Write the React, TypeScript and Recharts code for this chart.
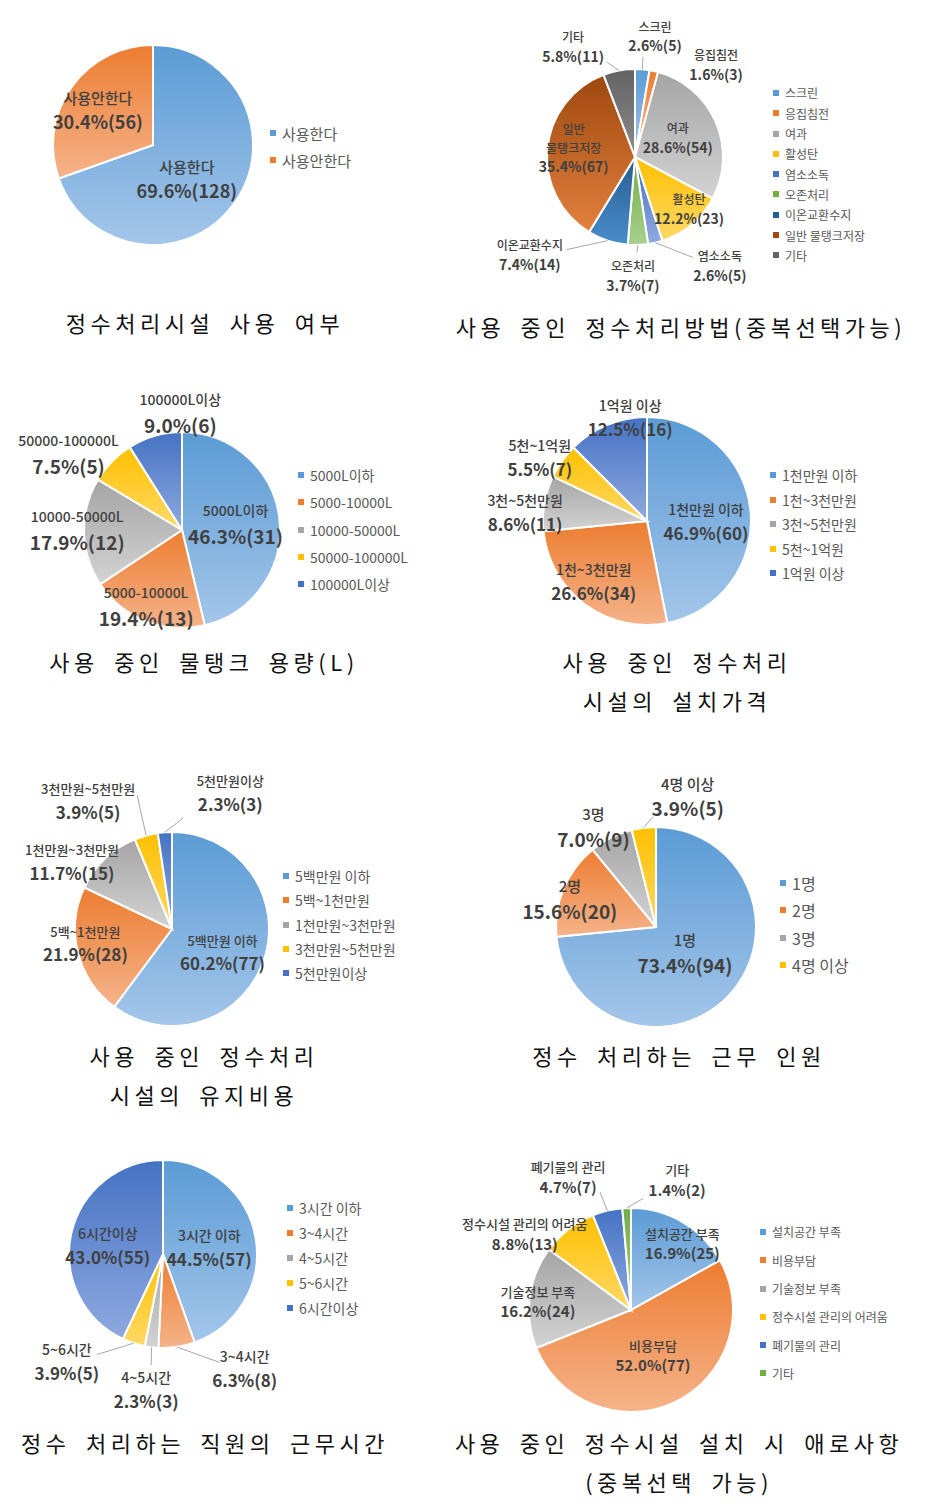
import { PieChart, Pie, Cell, Legend } from "recharts";

const FONT = '"Noto Sans CJK KR", "Noto Sans", sans-serif';

// counts (percentages are derived from them)
const useNames = ["사용한다", "사용안한다"];
const useCounts = [128, 56];

const methodNames = ["스크린", "응집침전", "여과", "활성탄", "염소소독", "오존처리", "이온교환수지", "일반 물탱크저장", "기타"];
const methodCounts = [5, 3, 54, 23, 5, 7, 14, 67, 11];

const tankNames = ["5000L이하", "5000-10000L", "10000-50000L", "50000-100000L", "100000L이상"];
const tankCounts = [31, 13, 12, 5, 6];

const installNames = ["1천만원 이하", "1천~3천만원", "3천~5천만원", "5천~1억원", "1억원 이상"];
const installCounts = [60, 34, 11, 7, 16];

const upkeepNames = ["5백만원 이하", "5백~1천만원", "1천만원~3천만원", "3천만원~5천만원", "5천만원이상"];
const upkeepCounts = [77, 28, 15, 5, 3];

const staffNames = ["1명", "2명", "3명", "4명 이상"];
const staffCounts = [94, 20, 9, 5];

const hourNames = ["3시간 이하", "3~4시간", "4~5시간", "5~6시간", "6시간이상"];
const hourCounts = [57, 8, 3, 5, 55];

const issueNames = ["설치공간 부족", "비용부담", "기술정보 부족", "정수시설 관리의 어려움", "폐기물의 관리", "기타"];
const issueCounts = [25, 77, 24, 13, 7, 2];

// excel-ish gradient pairs [top, bottom]
const BLUE = ["#5B9BD5", "#A4C6EA"];
const ORANGE = ["#ED7D31", "#F5B38A"];
const GRAY = ["#A5A5A5", "#D3D3D3"];
const YELLOW = ["#FFC000", "#FFD966"];
const NAVY = ["#4472C4", "#8FA9DF"];
const GREEN = ["#70AD47", "#A9D18E"];
const DBLUE = ["#255E91", "#4A8CCB"];
const DORANGE = ["#9E480E", "#E3813F"];
const DGRAY = ["#636363", "#8C8C8C"];

const PALETTE5 = [BLUE, ORANGE, GRAY, YELLOW, NAVY, GREEN];

// label placement: [radius ratio, dx, dy, leader end dx, leader end dy]
type Place = number[];

interface ChartDef {
  id: string;
  names: string[];
  counts: number[];
  colors: string[][];
  panel: { x: number; y: number; w: number; h: number };
  cx: number;
  cy: number;
  r: number;
  nameSize: number;
  valueSize: number;
  gap: number;
  place: Place[];
  breakAt?: number[];
  legend: { x: number; y: number; step: number; size: number };
  title: string[];
  titleX: number;
  titleY: number;
}

const charts: ChartDef[] = [
  {
    id: "use", names: useNames, counts: useCounts, colors: [BLUE, ORANGE],
    panel: { x: 0, y: 0, w: 440, h: 300 }, cx: 153, cy: 145, r: 100,
    nameSize: 15, valueSize: 18, gap: 24,
    place: [[0.5, -7, 6], [0.65, -2, 3]],
    legend: { x: 270, y: 133, step: 27, size: 15 },
    title: ["정수처리시설 사용 여부"], titleX: 205, titleY: 322,
  },
  {
    id: "method", names: methodNames, counts: methodCounts,
    colors: [BLUE, ORANGE, GRAY, YELLOW, NAVY, GREEN, DBLUE, DORANGE, DGRAY],
    panel: { x: 440, y: 0, w: 507, h: 300 }, cx: 635, cy: 157, r: 88,
    nameSize: 12, valueSize: 14, gap: 19,
    place: [
      [1.37, 10, 0, -12, 20], [1.38, 55, 27], [0.53, 0, 0], [0.85, 6, -5],
      [1.57, 53, -25, -27, -9], [1.36, -6, 0, 4, -24], [1.25, -71, -6, 37, -6],
      [0.7, 0, -3], [1.43, -39, 14, 34, 15],
    ],
    breakAt: [7],
    legend: { x: 773, y: 93, step: 20.3, size: 12 },
    title: ["사용 중인 정수처리방법(중복선택가능)"], titleX: 681, titleY: 326,
  },
  {
    id: "tank", names: tankNames, counts: tankCounts, colors: PALETTE5,
    panel: { x: 0, y: 380, w: 440, h: 300 }, cx: 182, cy: 530, r: 98,
    nameSize: 14, valueSize: 19, gap: 26,
    place: [[0.55, 0, 0], [0.86, -5, -2], [1.07, 0, -2], [1.39, -16, 19], [1.2, 31, -4]],
    legend: { x: 298, y: 475, step: 27.3, size: 14 },
    title: ["사용 중인 물탱크 용량(L)"], titleX: 204, titleY: 661,
  },
  {
    id: "install", names: installNames, counts: installCounts, colors: PALETTE5,
    panel: { x: 440, y: 380, w: 507, h: 340 }, cx: 647, cy: 521, r: 104,
    nameSize: 14, valueSize: 17, gap: 24,
    place: [[0.57, 0, 7], [0.78, -5, -4], [1.17, -2, 13], [1.19, -6, 8], [1.0, 23, -7]],
    legend: { x: 770, y: 475, step: 24.5, size: 14 },
    title: ["사용 중인 정수처리", "시설의 설치가격"], titleX: 677, titleY: 661,
  },
  {
    id: "upkeep", names: upkeepNames, counts: upkeepCounts, colors: PALETTE5,
    panel: { x: 0, y: 760, w: 440, h: 340 }, cx: 172, cy: 929, r: 97,
    nameSize: 13, valueSize: 17, gap: 23,
    place: [[0.57, -2, 6], [0.91, -1, -7], [1.24, -17, 20], [1.58, -43, 20, 49, -6], [1.5, 69, 9, -47, 25]],
    legend: { x: 283, y: 876, step: 24.3, size: 14 },
    title: ["사용 중인 정수처리", "시설의 유지비용"], titleX: 204, titleY: 1055,
  },
  {
    id: "staff", names: staffNames, counts: staffCounts, colors: PALETTE5,
    panel: { x: 440, y: 760, w: 507, h: 340 }, cx: 656, cy: 927, r: 100,
    nameSize: 15, valueSize: 19, gap: 25,
    place: [[0.39, 0, 0], [0.9, -3, 7], [1.17, -10, 5], [1.33, 48, 2, -35, 20]],
    legend: { x: 780, y: 883, step: 27.3, size: 16 },
    title: ["정수 처리하는 근무 인원"], titleX: 679, titleY: 1055,
  },
  {
    id: "hours", names: hourNames, counts: hourCounts, colors: PALETTE5,
    panel: { x: 0, y: 1150, w: 440, h: 354 }, cx: 163, cy: 1254, r: 94,
    nameSize: 14, valueSize: 17, gap: 24,
    place: [[0.5, 0, 2], [1.5, 61, -25, -25, -6], [1.46, 0, 0, 5, -25], [1.53, -51, -29, 30, -7], [0.58, -2, 4]],
    legend: { x: 287, y: 1208, step: 25, size: 14 },
    title: ["정수 처리하는 직원의 근무시간"], titleX: 205, titleY: 1442,
  },
  {
    id: "issue", names: issueNames, counts: issueCounts, colors: PALETTE5,
    panel: { x: 440, y: 1150, w: 507, h: 354 }, cx: 631, cy: 1310, r: 102,
    nameSize: 13, valueSize: 15, gap: 20,
    place: [[0.82, 9, 6], [0.5, 0, 0], [0.92, 0, 4], [1.27, -27, 27], [1.44, -29, 10, 32, 15], [1.35, 52, 8, -34, 18]],
    legend: { x: 760, y: 1232, step: 28.3, size: 12 },
    title: ["사용 중인 정수시설 설치 시 애로사항", "(중복선택 가능)"], titleX: 679, titleY: 1442,
  },
];

function pct(def: ChartDef, v: number) {
  const total = def.counts.reduce((a, b) => a + b, 0);
  return ((v / total) * 100).toFixed(1);
}

function renderLabel(def: ChartDef, p: any) {
  const { cx, cy, midAngle, outerRadius, index } = p;
  const [ratio, dx, dy, lx, ly] = def.place[index];
  const rad = (-midAngle * Math.PI) / 180;
  const bx = cx + outerRadius * ratio * Math.cos(rad) + dx;
  const by = cy + outerRadius * ratio * Math.sin(rad) + dy;
  const name = def.names[index];
  const nameLines = def.breakAt && def.breakAt.includes(index) ? name.split(" ") : [name];
  const n = nameLines.length + 1;
  const y0 = by - (def.gap * (n - 1)) / 2;
  return (
    <g key={`lbl-${def.id}-${index}`}>
      {lx !== undefined && (
        <line
          x1={cx + outerRadius * Math.cos(rad)}
          y1={cy + outerRadius * Math.sin(rad)}
          x2={bx + lx}
          y2={by + ly}
          stroke="#A6A6A6"
          strokeWidth={1}
        />
      )}
      <text textAnchor="middle" fontFamily={FONT} fill="#404040">
        {nameLines.map((t, i) => (
          <tspan key={i} x={bx} y={y0 + i * def.gap + def.nameSize * 0.36} fontSize={def.nameSize} fontWeight={500}>
            {t}
          </tspan>
        ))}
        <tspan x={bx} y={y0 + (n - 1) * def.gap + def.valueSize * 0.36} fontSize={def.valueSize} fontWeight="bold">
          {`${pct(def, def.counts[index])}%(${def.counts[index]})`}
        </tspan>
      </text>
    </g>
  );
}

function LegendList({ def }: { def: ChartDef }) {
  return (
    <div style={{ fontFamily: FONT, fontSize: def.legend.size, color: "#595959" }}>
      {def.names.map((nm, i) => (
        <div key={nm} style={{ height: def.legend.step, display: "flex", alignItems: "center", whiteSpace: "nowrap" }}>
          <span style={{ width: 6, height: 6, background: def.colors[i][0], marginRight: 6, display: "inline-block" }} />
          <span>{nm}</span>
        </div>
      ))}
    </div>
  );
}

function Chart({ def }: { def: ChartDef }) {
  const data = def.names.map((name, i) => ({ name, value: def.counts[i] }));
  const { x, y, w, h } = def.panel;
  return (
    <div style={{ position: "absolute", left: x, top: y, width: w, height: h }}>
      <PieChart width={w} height={h} margin={{ top: 0, right: 0, bottom: 0, left: 0 }}>
        <defs>
          {def.colors.map((c, i) => (
            <linearGradient key={i} id={`g-${def.id}-${i}`} x1="0" y1="0" x2="0" y2="1">
              <stop offset="0%" stopColor={c[0]} />
              <stop offset="100%" stopColor={c[1]} />
            </linearGradient>
          ))}
        </defs>
        <Pie
          data={data}
          dataKey="value"
          nameKey="name"
          cx={def.cx - x}
          cy={def.cy - y}
          outerRadius={def.r}
          startAngle={90}
          endAngle={-270}
          stroke="#ffffff"
          strokeWidth={2}
          labelLine={false}
          label={(p: any) => renderLabel(def, p)}
          isAnimationActive={false}
        >
          {data.map((d, i) => (
            <Cell key={d.name} fill={`url(#g-${def.id}-${i})`} />
          ))}
        </Pie>
        <Legend
          layout="vertical"
          align="right"
          verticalAlign="top"
          wrapperStyle={{
            left: def.legend.x - x,
            top: def.legend.y - y - def.legend.step / 2,
            right: "auto",
            width: "auto",
          }}
          content={() => <LegendList def={def} />}
        />
      </PieChart>
    </div>
  );
}

export default function App() {
  return (
    <div style={{ position: "absolute", left: 0, top: 0, width: 947, height: 1504, background: "#fff", overflow: "hidden" }}>
      {charts.map((def) => (
        <Chart key={def.id} def={def} />
      ))}
      {charts.map((def) =>
        def.title.map((t, i) => (
          <div
            key={`${def.id}-t${i}`}
            style={{
              position: "absolute",
              left: def.titleX - 300,
              top: def.titleY - 13 + i * 39,
              width: 600,
              textAlign: "center",
              fontFamily: FONT,
              fontSize: 22,
              lineHeight: "26px",
              letterSpacing: 4.5,
              wordSpacing: 6,
              color: "#111",
              whiteSpace: "nowrap",
            }}
          >
            {t}
          </div>
        ))
      )}
    </div>
  );
}
